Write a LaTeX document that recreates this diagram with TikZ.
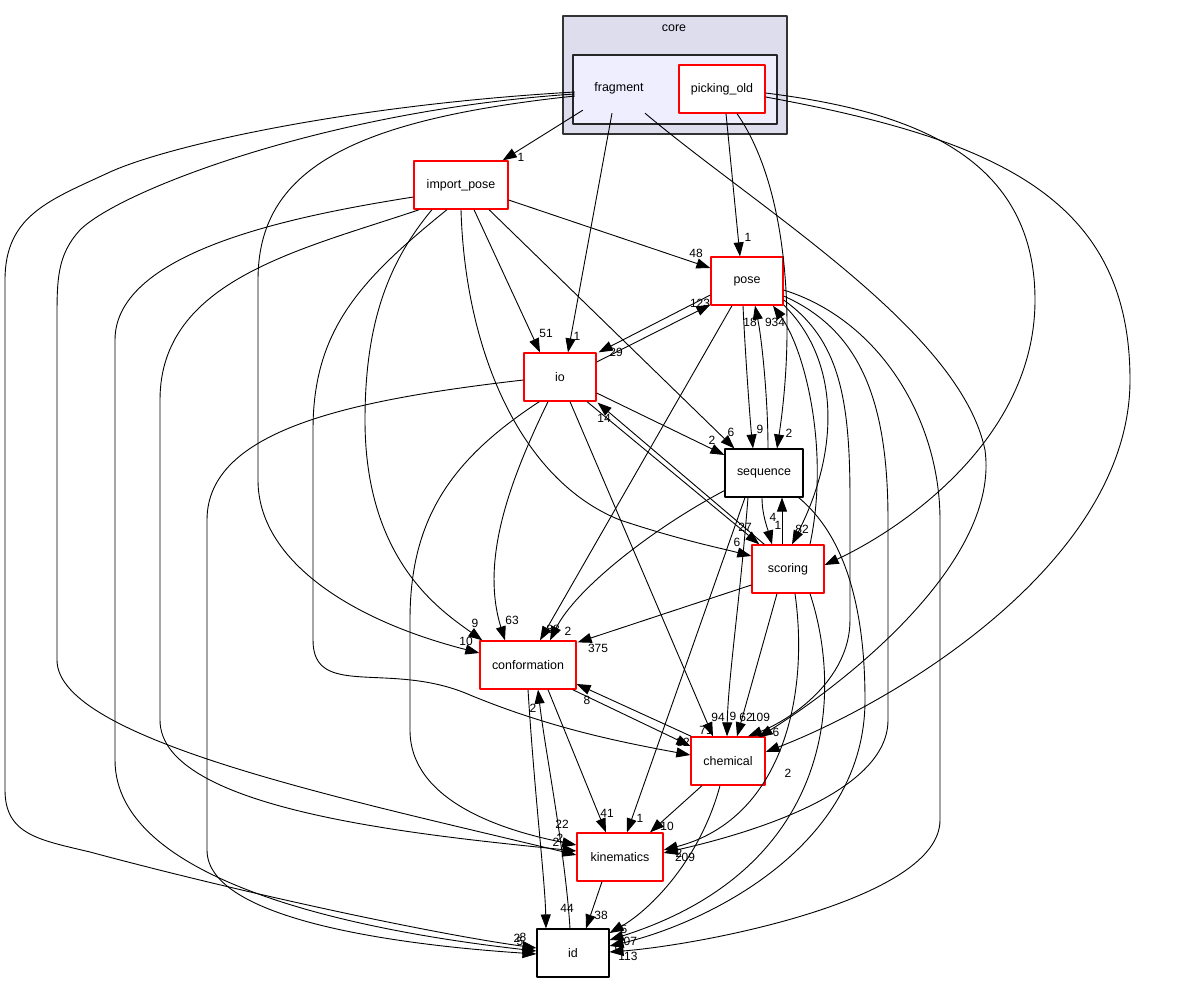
\documentclass[tikz,border=0pt]{standalone}
\usepackage{fontspec}
\setmainfont{Liberation Sans}
\usetikzlibrary{arrows.meta,calc}
\definecolor{corefill}{HTML}{DDDDEE}
\definecolor{fragfill}{HTML}{EEEEFF}
\begin{document}
\begin{tikzpicture}[x=1bp,y=-1bp,>={Triangle[length=14bp,width=10bp]},
  font=\fontsize{12.5}{14}\selectfont, line join=round,
  dirbox/.style={draw=red,fill=white,line width=1.3bp,minimum width=#1bp,minimum height=48bp,inner sep=0pt},
  filebox/.style={draw=black,fill=white,line width=1.1bp,minimum width=#1bp,minimum height=48bp,inner sep=0pt},
  lbl/.style={font=\fontsize{12}{12}\selectfont,inner sep=0pt},
  dep/.style={->,line width=0.9bp}]
\useasboundingbox (0,0) rectangle (1193,983);
% clusters
\draw[fill=corefill,draw=black!80,line width=1.1bp] (563,16) rectangle (787,134);
\node (corelabel) at (674,28) {core};
\draw[fill=fragfill,draw=black!85,line width=1.6bp] (573,55) rectangle (777,124);
\node[minimum width=92bp,minimum height=50bp,inner sep=0pt] (fragment) at (619,88) {fragment};
% directories
\node[dirbox=86] (pickingold) at (722,89) {picking\_old};
\node[dirbox=94] (importpose) at (461,185) {import\_pose};
\node[dirbox=72] (pose) at (747,281) {pose};
\node[dirbox=72] (io) at (560,377) {io};
\node[filebox=78] (sequence) at (764,473) {sequence};
\node[dirbox=72] (scoring) at (788,569) {scoring};
\node[dirbox=96] (conformation) at (528,665) {conformation};
\node[dirbox=74] (chemical) at (728,761) {chemical};
\node[dirbox=86] (kinematics) at (620,857) {kinematics};
\node[filebox=72] (id) at (573,953) {id};
% fragment
\draw[dep] ($(fragment.south west)+(10,-3)$) -- ($(importpose.north east)+(-6,0)$) node[lbl] at (521,157) {1};
\draw[dep] ($(fragment.south)+(-7,0)$) -- ($(io.north)+(8,0)$) node[lbl] at (577,336) {1};
\draw[dep] ($(fragment.south)+(26,0)$) .. controls (760,210) and (960,330) .. (985,450) .. controls (1000,560) and (850,680) .. ($(chemical.north east)+(-7,1)$) node[lbl] at (776,732) {6};
\draw[dep] ($(fragment.west)+(2,4)$) .. controls (350,105) and (170,145) .. (110,172) .. controls (50,200) and (5,215) .. (5,280) -- (5,790) .. controls (5,835) and (40,840) .. (90,852) .. controls (250,895) and (440,935) .. ($(id.west)+(0,-5)$) node[lbl] at (517,938) {2};
\draw[dep] ($(fragment.west)+(2,6)$) .. controls (330,110) and (120,190) .. (80,230) .. controls (57,255) and (57,280) .. (57,320) -- (57,660) .. controls (57,740) and (350,800) .. ($(kinematics.west)+(0,-2)$) node[lbl] at (556,842) {2};
\draw[dep] ($(fragment.west)+(2,8)$) .. controls (350,120) and (258,170) .. (258,280) -- (258,480) .. controls (258,560) and (350,620) .. ($(conformation.west)+(0,-12)$) node[lbl] at (466,641) {10};
% picking_old
\draw[dep] ($(pickingold.south)+(4,0)$) -- ($(pose.north)+(-7,0)$) node[lbl] at (748,237) {1};
\draw[dep] ($(pickingold.south)+(15,0)$) .. controls (790,190) and (795,330) .. ($(sequence.north)+(13,0)$) node[lbl] at (789,433) {2};
\draw[dep] ($(pickingold.east)+(0,4)$) .. controls (900,110) and (1035,150) .. (1035,300) .. controls (1035,440) and (900,530) .. ($(scoring.east)+(0,-4)$);
\draw[dep] ($(pickingold.east)+(0,8)$) .. controls (1000,140) and (1130,200) .. (1130,380) .. controls (1130,560) and (900,700) .. ($(chemical.east)+(0,-9)$) node[lbl] at (788,773) {2};
% import_pose
\draw[dep] ($(importpose.west)+(0,12)$) .. controls (300,215) and (115,250) .. (115,340) -- (115,760) .. controls (115,880) and (350,930) .. ($(id.west)+(0,-2)$) node[lbl] at (523,937) {8};
\draw[dep] ($(importpose.south west)+(6,0)$) .. controls (300,250) and (160,280) .. (160,400) -- (160,720) .. controls (160,810) and (420,835) .. ($(kinematics.west)+(0,-6)$) node[lbl] at (560,838) {2};
\draw[dep] ($(importpose.south)+(-29,0)$) .. controls (390,260) and (365,320) .. (365,420) .. controls (365,560) and (440,610) .. ($(conformation.north west)+(3,0)$) node[lbl] at (475,623) {9};
\draw[dep] ($(importpose.south)+(-14,0)$) .. controls (360,280) and (313,330) .. (313,430) -- (313,640) .. controls (313,700) and (390,660) .. (470,695) .. controls (550,728) and (620,742) .. ($(chemical.west)+(0,-6)$) node[lbl] at (683,742) {32};
\draw[dep] (importpose.south) .. controls (465,350) and (520,480) .. (620,520) .. controls (680,540) and (720,548) .. ($(scoring.west)+(0,-13)$) node[lbl] at (737,542) {6};
\draw[dep] ($(importpose.south)+(13,0)$) -- ($(io.north)+(-20,0)$) node[lbl] at (546,333) {51};
\draw[dep] ($(importpose.south)+(28,0)$) -- ($(sequence.north west)+(10,0)$) node[lbl] at (731,432) {6};
\draw[dep] ($(importpose.east)+(0,15)$) -- ($(pose.west)+(0,-13)$) node[lbl] at (696,253) {48};
% pose
\draw[dep] ($(io.east)+(0,-15)$) -- ($(pose.south west)+(0,-1)$) node[lbl] at (700,303) {123};
\draw[dep] ($(pose.west)+(0,14)$) -- ($(io.north east)+(2,0)$) node[lbl] at (616,352) {29};
\draw[dep] ($(pose.south)+(-15,0)$) -- ($(conformation.north)+(12,0)$) node[lbl] at (553,629) {88};
\draw[dep] ($(pose.south)+(-4,0)$) .. controls (745,350) and (750,420) .. ($(sequence.north)+(-11,0)$) node[lbl] at (760,429) {9};
\draw[dep] ($(sequence.north)+(4,0)$) .. controls (768,400) and (762,340) .. ($(pose.south)+(8,0)$) node[lbl] at (750,322) {18};
\draw[dep] ($(scoring.north)+(22,0)$) .. controls (830,450) and (805,350) .. ($(pose.south)+(26,0)$) node[lbl] at (775,322) {934};
\draw[dep] ($(pose.east)+(0,24)$) .. controls (840,360) and (840,450) .. ($(scoring.north)+(4,0)$) node[lbl] at (802,529) {82};
\draw[dep] ($(pose.east)+(0,19)$) .. controls (840,340) and (850,400) .. (850,500) -- (850,620) .. controls (850,680) and (790,720) .. ($(chemical.north)+(20,0)$) node[lbl] at (760,717) {109};
\draw[dep] ($(pose.east)+(0,15)$) .. controls (860,330) and (888,400) .. (888,520) -- (888,720) .. controls (888,800) and (720,840) .. ($(kinematics.east)+(0,-4)$) node[lbl] at (685,857) {209};
\draw[dep] ($(pose.east)+(0,9)$) .. controls (880,320) and (940,420) .. (940,520) -- (940,820) .. controls (940,900) and (700,945) .. ($(id.east)+(0,-1)$) node[lbl] at (628,956) {113};
% io
\draw[dep] ($(io.west)+(0,3)$) .. controls (350,400) and (207,430) .. (207,520) -- (207,850) .. controls (207,920) and (400,945) .. ($(id.west)+(0,1)$) node[lbl] at (520,941) {5};
\draw[dep] ($(io.south west)+(16,0)$) .. controls (450,460) and (410,520) .. (410,620) -- (410,730) .. controls (410,800) and (500,830) .. ($(kinematics.west)+(0,-12)$) node[lbl] at (562,824) {22};
\draw[dep] ($(io.south)+(-12,0)$) .. controls (510,480) and (480,560) .. ($(conformation.north)+(-23,0)$) node[lbl] at (512,620) {63};
\draw[dep] ($(io.south)+(10,0)$) -- ($(chemical.north)+(-15,0)$) node[lbl] at (718,717) {94};
\draw[dep] ($(io.east)+(0,16)$) -- ($(sequence.west)+(0,-18)$) node[lbl] at (712,440) {2};
\draw[dep] ($(io.south)+(27,0)$) -- ($(scoring.north west)+(8,0)$) node[lbl] at (745,527) {27};
\draw[dep] ($(scoring.north west)+(13,0)$) -- ($(io.south east)+(1,1)$) node[lbl] at (604,418) {14};
% sequence
\draw[dep] ($(sequence.south west)+(0,-7)$) .. controls (650,530) and (575,590) .. ($(conformation.north)+(22,0)$) node[lbl] at (568,631) {2};
\draw[dep] ($(sequence.south)+(-19,0)$) -- ($(kinematics.north)+(7,0)$) node[lbl] at (640,818) {1};
\draw[dep] ($(sequence.south)+(-16,0)$) .. controls (740,600) and (728,680) .. ($(chemical.north)+(-1,0)$) node[lbl] at (733,716) {9};
\draw[dep] ($(sequence.south)+(-2,0)$) .. controls (762,515) and (768,530) .. ($(scoring.north)+(-16,0)$) node[lbl] at (778,525) {1};
\draw[dep] ($(scoring.north)+(-6,0)$) -- ($(sequence.south)+(18,0)$) node[lbl] at (773,517) {4};
\draw[dep] ($(sequence.south east)+(-5,0)$) .. controls (850,540) and (865,620) .. (865,700) .. controls (865,850) and (700,925) .. ($(id.east)+(0,-7)$) node[lbl] at (618,949) {9};
% scoring
\draw[dep] ($(scoring.west)+(0,16)$) -- ($(conformation.north east)+(1,2)$) node[lbl] at (598,648) {375};
\draw[dep] ($(scoring.south)+(-11,0)$) -- ($(chemical.north)+(9,0)$) node[lbl] at (746,717) {62};
\draw[dep] ($(scoring.south)+(7,0)$) .. controls (810,700) and (780,820) .. ($(kinematics.east)+(0,-7)$) node[lbl] at (679,853) {2};
\draw[dep] ($(scoring.south)+(22,0)$) .. controls (845,700) and (830,870) .. ($(id.east)+(0,-13)$) node[lbl] at (627,941) {207};
% conformation
\draw[dep] (conformation.south) .. controls (535,800) and (545,880) .. ($(id.north)+(-27,0)$) node[lbl] at (567,908) {44};
\draw[dep] ($(id.north)+(-3,0)$) .. controls (565,850) and (545,750) .. ($(conformation.south)+(10,0)$) node[lbl] at (533,708) {2};
\draw[dep] ($(conformation.south)+(20,0)$) -- ($(kinematics.north)+(-14,0)$) node[lbl] at (607,813) {41};
\draw[dep] ($(conformation.south east)+(-4,0)$) -- ($(chemical.west)+(0,-15)$) node[lbl] at (706,730) {71};
\draw[dep] ($(chemical.north west)+(1,0)$) -- ($(conformation.east)+(0,19)$) node[lbl] at (587,700) {8};
% chemical
\draw[dep] ($(chemical.south)+(-26,0)$) -- ($(kinematics.north)+(30,0)$) node[lbl] at (667,826) {10};
\draw[dep] ($(chemical.south)+(-8,0)$) .. controls (700,860) and (650,910) .. ($(id.east)+(0,-20)$) node[lbl] at (624,929) {5};
\draw[dep] ($(kinematics.south)+(-18,0)$) -- ($(id.north)+(13,0)$) node[lbl] at (601,915) {38};
\end{tikzpicture}
\end{document}
